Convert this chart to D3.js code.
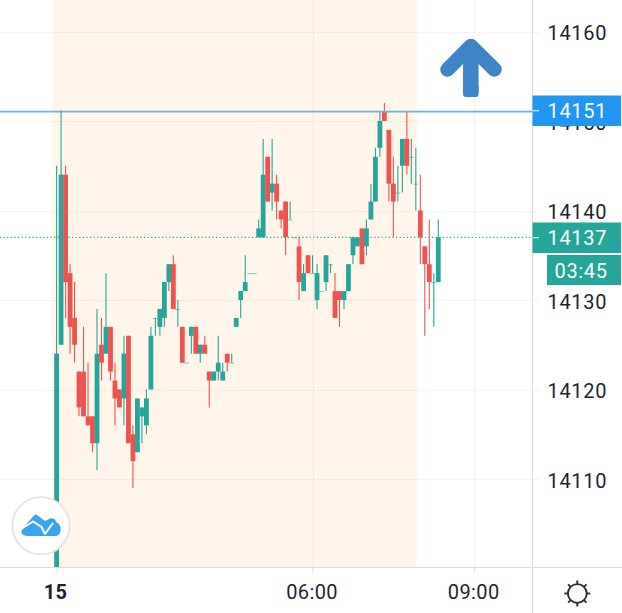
<!DOCTYPE html>
<html><head><meta charset="utf-8">
<script src="https://cdn.jsdelivr.net/npm/d3@7/dist/d3.min.js"></script>
<style>html,body{margin:0;padding:0;background:#fff;overflow:hidden}svg{display:block}text{font-family:Roboto,sans-serif}</style>
</head><body><svg id="c" width="622" height="613"></svg>
<script>
const opens =[14090,14125,14144,14133,14128,14122,14122,14117,14117,14114,14125,14124,14127,14121,14120,14119,14126,14115,14113,14117,14116,14120,14128,14127,14128,14132,14134,14129,14127,14123,14126,14127,14124,14125,14122,14121,14122,14121,14124,14123,14127,14130,14131,14133,14133,14137,14137,14146,14142,14143,14140,14141,14139,14137,14136,14131,14135,14133,14130,14131,14132,14134,14131,14131,14130,14131,14135,14136,14138,14136,14139,14141,14147,14151,14149,14143,14142,14145,14148,14146,14143,14140,14136,14134,14132,14132];
const highs =[14145,14151.2,14145,14134,14132,14122,14127,14123,14117,14129,14128,14133,14127,14123,14120,14126,14126,14116,14119,14118,14120,14127,14128,14129,14132,14134,14135,14130,14127,14123,14127,14127,14125,14126,14122,14122,14126,14123,14124,14124,14128,14131,14135,14133,14133,14139,14148,14146,14148,14144,14140,14141,14141,14137,14137,14134,14135,14135,14134,14131,14135,14134,14133,14131,14131,14134,14137,14137,14138,14139,14143,14147,14151,14152,14149,14146,14145,14148,14151,14148,14147,14144,14136,14139,14133,14139];
const lows  =[14090,14125,14128,14124,14123,14117,14117,14116,14113,14111,14121,14124,14121,14116,14118,14116,14114,14109,14113,14114,14115,14120,14126,14126,14127,14131,14129,14127,14123,14123,14124,14124,14123,14124,14118,14121,14121,14121,14122,14123,14127,14128,14131,14133,14133,14137,14137,14141,14140,14139,14138,14135,14139,14137,14130,14131,14133,14133,14129,14131,14131,14133,14128,14127,14129,14131,14134,14136,14134,14135,14139,14141,14146,14150,14141,14137,14141,14142,14144,14143,14140,14134,14126,14129,14127,14132];
const closes=[14124,14144,14132,14127,14125,14118,14117,14116,14114,14124,14123,14127,14122,14119,14118,14124,14114,14112,14119,14118,14119,14126,14128,14129,14132,14134,14129,14129,14123,14123,14127,14124,14125,14124,14121,14122,14123,14122,14123,14123,14128,14131,14132,14133,14133,14138,14144,14141,14143,14141,14139,14137,14139,14137,14132,14133,14133,14133,14133,14131,14135,14134,14128,14130,14131,14134,14137,14137,14134,14138,14141,14146,14150,14150,14143,14141,14142,14148,14145,14146,14143,14137,14134,14132,14132,14137];
const priceTicks=[14160,14150,14140,14130,14120,14110];
const timeTicks=[{i:0,label:"15",bold:true},{i:57,label:"06:00"},{i:93,label:"09:00"}];
const highLevel=14151.05, highLabel="14151";
const lastLevel=14137, lastLabel="14137", countdown="03:45";
const sessionBars=[-1,80.1];

const UP="#26a69a",DOWN="#ef5350",INK="#1f232d",LABEL=20;
const svg=d3.select("#c");
const x=d3.scaleLinear().domain([0,93]).range([56.6,474.2]);
const y=d3.scaleLinear().domain([14100,14160]).range([568.5,31.5]);
const bw=4.8;
svg.append("defs").append("clipPath").attr("id","pane").append("rect").attr("x",0).attr("y",0).attr("width",533).attr("height",567);

svg.append("rect").attr("x",x(sessionBars[0])+0.4).attr("y",0).attr("width",x(sessionBars[1])-x(sessionBars[0])).attr("height",567).attr("fill","#fff5ea");
const grid=svg.append("g").attr("stroke","#3a3a3a").attr("stroke-opacity",0.055);
grid.selectAll("line.h").data(priceTicks).join("line").attr("class","h").attr("x1",0).attr("x2",540).attr("y1",d=>Math.round(y(d))+.5).attr("y2",d=>Math.round(y(d))+.5);
grid.selectAll("line.v").data(timeTicks.slice(1)).join("line").attr("class","v").attr("y1",0).attr("y2",567).attr("x1",d=>Math.round(x(d.i))+.5).attr("x2",d=>Math.round(x(d.i))+.5);

const bars=d3.range(opens.length).map(i=>({i,o:opens[i],h:highs[i],l:lows[i],c:closes[i]}));
const col=d=>d.c<d.o?DOWN:UP;
const pane=svg.append("g").attr("clip-path","url(#pane)");
pane.selectAll("line.w").data(bars).join("line").attr("class","w")
 .attr("x1",d=>x(d.i)).attr("x2",d=>x(d.i)).attr("y1",d=>y(d.h)).attr("y2",d=>y(d.l))
 .attr("stroke",col).attr("stroke-width",1.1);
pane.selectAll("rect.b").data(bars).join("rect").attr("class","b")
 .attr("x",d=>x(d.i)-bw/2).attr("width",bw)
 .attr("y",d=>y(Math.max(d.o,d.c)))
 .attr("height",d=>Math.max(1,Math.abs(y(d.o)-y(d.c))))
 .attr("fill",col).attr("fill-opacity",d=>d.o===d.c?0.6:1);

svg.append("line").attr("x1",0).attr("x2",533).attr("y1",y(highLevel)).attr("y2",y(highLevel)).attr("stroke","#74b1d6").attr("stroke-width",1.6);
svg.append("line").attr("x1",0).attr("x2",533).attr("y1",y(lastLevel)).attr("y2",y(lastLevel)).attr("stroke",UP).attr("stroke-width",1.1).attr("stroke-dasharray","1.2 2.4");

svg.append("line").attr("x1",532.5).attr("x2",532.5).attr("y1",0).attr("y2",613).attr("stroke","#dcdcdc").attr("stroke-width",1);
svg.append("line").attr("x1",0).attr("x2",622).attr("y1",567.5).attr("y2",567.5).attr("stroke","#dcdcdc").attr("stroke-width",1.2);

const pa=svg.append("g").attr("transform","translate(533,0)").call(d3.axisRight(y).tickValues(priceTicks).tickSize(0).tickPadding(14.6).tickFormat(d3.format("d")));
pa.select(".domain").remove();
pa.selectAll("text").attr("font-family","Roboto").attr("font-size",LABEL).attr("fill",INK).attr("letter-spacing",0.65).attr("dy","0.4em");

const tickMap=new Map(timeTicks.map(t=>[t.i,t]));
const ta=svg.append("g").attr("transform","translate(0,567)").call(d3.axisBottom(x).tickValues(timeTicks.map(t=>t.i)).tickSize(6).tickPadding(11.5).tickFormat(i=>tickMap.get(i).label));
ta.select(".domain").remove();
ta.selectAll("line").attr("stroke","#dcdcdc");
ta.selectAll("text").attr("font-family","Roboto").attr("font-size",LABEL).attr("fill",INK).attr("letter-spacing",0.4)
  .attr("font-weight",i=>tickMap.get(i).bold?700:400).attr("dy","0.71em").attr("dx",i=>tickMap.get(i).bold?-1.5:-1);

function tag(x0,y0,w,h,fill,txt,tick,tx){
  svg.append("rect").attr("x",x0).attr("y",y0).attr("width",w).attr("height",h).attr("fill",fill);
  if(tick) svg.append("line").attr("x1",533).attr("x2",539).attr("y1",y0+h/2).attr("y2",y0+h/2).attr("stroke","#fff").attr("stroke-width",1);
  svg.append("text").attr("x",tx).attr("y",y0+h/2).attr("dy","0.38em").attr("font-size",LABEL).attr("letter-spacing",0.65).attr("fill","#fff").text(txt);
}
tag(532.5,95.5,88.5,30.5,"#2196f3",highLabel,true,547.6);
tag(532.5,222.5,88.5,30.5,UP,lastLabel,true,547.6);
tag(547,255,74,30,UP,countdown,false,554.5);

const arrow=svg.append("g").attr("fill","none").attr("stroke","#3d85c6").attr("stroke-linejoin","round").attr("stroke-linecap","round");
arrow.append("path").attr("d","M447.500 69.500L470.800 46L494.500 69.500").attr("stroke-width",14.5);
arrow.append("path").attr("d","M470.800 52V93").attr("stroke-width",15.5).attr("stroke-linecap","butt");
svg.append("rect").attr("x",463).attr("y",85).attr("width",15.6).attr("height",12).attr("rx",3).attr("fill","#3d85c6");

svg.append("circle").attr("cx",41).attr("cy",525.8).attr("r",28.6).attr("fill","#fff").attr("stroke","#e6e4e2").attr("stroke-width",1.8);
svg.append("path").attr("fill","#3aa5ef")
 .attr("d","M22 529L34 515.500Q35.500 514 37 515L45 521L50 518.500Q55 517 56 522Q61 524 60.700 530Q60 536 55 536L27 536Q20 535 22 529Z");
svg.append("path").attr("fill","none").attr("stroke","#fff").attr("stroke-width",2).attr("stroke-linejoin","round")
 .attr("d","M21 529L33 521.500L41.500 527L45 534L53 523");

const sun=svg.append("g").attr("transform","translate(577.3,593.5)").attr("stroke","#2a2e39").attr("fill","none");
sun.append("circle").attr("r",9.4).attr("stroke-width",1.9);
d3.range(8).forEach(k=>{const a=k*Math.PI/4;sun.append("line").attr("x1",Math.cos(a)*9.4).attr("y1",Math.sin(a)*9.4).attr("x2",Math.cos(a)*13).attr("y2",Math.sin(a)*13).attr("stroke-width",1.9);});
</script></body></html>
